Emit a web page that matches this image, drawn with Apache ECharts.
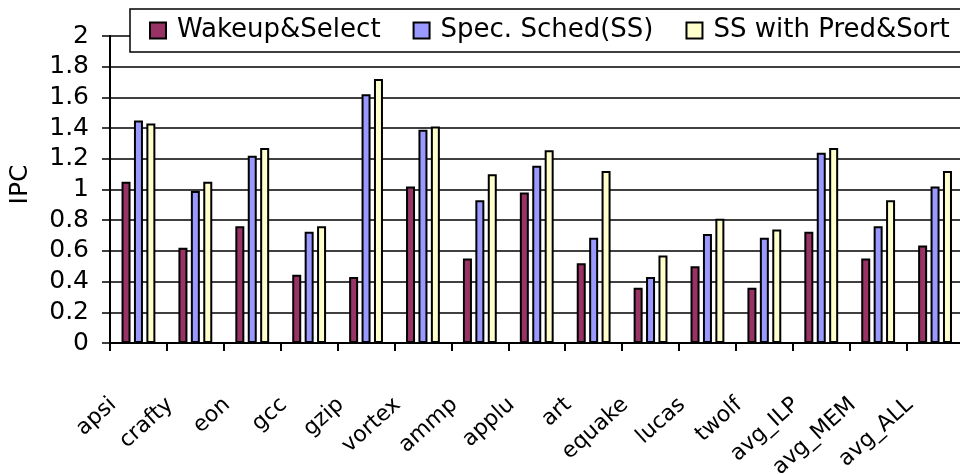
<!DOCTYPE html>
<html>
<head>
<meta charset="utf-8">
<script src="https://cdn.jsdelivr.net/npm/echarts@6/dist/echarts.min.js"></script>
<style>
  html, body { margin: 0; padding: 0; background: #fff; }
  #chart { width: 960px; height: 474px; }
</style>
</head>
<body>
<div id="chart"></div>
<script>
// Benchmarks along the x axis
const categories = ['apsi', 'crafty', 'eon', 'gcc', 'gzip', 'vortex', 'ammp', 'applu',
  'art', 'equake', 'lucas', 'twolf', 'avg_ILP', 'avg_MEM', 'avg_ALL'];

// IPC per scheduler configuration
const wakeupSelect = [1.05, 0.62, 0.76, 0.445, 0.43, 1.02, 0.55, 0.98, 0.52, 0.36, 0.50, 0.36, 0.725, 0.55, 0.635];
const specSched    = [1.45, 0.99, 1.22, 0.725, 1.62, 1.39, 0.93, 1.155, 0.685, 0.43, 0.71, 0.685, 1.24, 0.76, 1.02];
const predSort     = [1.43, 1.05, 1.27, 0.76, 1.72, 1.41, 1.10, 1.255, 1.12, 0.57, 0.81, 0.74, 1.27, 0.93, 1.12];

const seriesNames = ['Wakeup&Select', 'Spec. Sched(SS)', 'SS with Pred&Sort'];
const seriesColors = ['#993366', '#9999FF', '#FFFFCC'];
const seriesData = [wakeupSelect, specSched, predSort];

const FONT = 'DejaVu Sans';

// bar fill with a thin white highlight along the left edge
function barFill(c) {
  return new echarts.graphic.LinearGradient(0, 0, 1, 0, [
    { offset: 0, color: '#ffffff' },
    { offset: 0.18, color: '#ffffff' },
    { offset: 0.18, color: c },
    { offset: 1, color: c }
  ]);
}

const chart = echarts.init(document.getElementById('chart'), null, { renderer: 'canvas' });

chart.setOption({
  backgroundColor: '#ffffff',
  animation: false,
  legend: {
    orient: 'horizontal',
    left: 130,
    top: 9,
    width: 880,
    padding: [6, 24, 6, 19],
    itemGap: 32,
    itemWidth: 16,
    itemHeight: 16,
    borderColor: '#000',
    borderWidth: 1.5,
    backgroundColor: '#fff',
    textStyle: { fontFamily: FONT, fontSize: 26, color: '#000', lineHeight: 31, padding: [0, 0, 0, 6] },
    data: seriesNames.map((n, i) => ({
      name: n,
      icon: 'rect',
      itemStyle: { color: seriesColors[i], borderColor: '#000', borderWidth: 2 }
    }))
  },
  grid: {
    left: 110,
    top: 36,
    bottom: 131,
    width: 853.5,
    containLabel: false,
    outerBoundsMode: 'none'
  },
  xAxis: {
    type: 'category',
    data: categories,
    boundaryGap: true,
    axisLine: { lineStyle: { color: '#000', width: 2 } },
    axisTick: { show: true, length: 8, lineStyle: { color: '#000', width: 2 }, alignWithLabel: false },
    axisLabel: {
      interval: 0,
      rotate: 42,
      margin: 36,
      padding: [0, 34, 0, 0],
      fontFamily: FONT,
      fontSize: 22,
      color: '#000'
    },
    splitLine: { show: false }
  },
  yAxis: {
    type: 'value',
    min: 0,
    max: 2,
    interval: 0.2,
    name: 'IPC',
    nameLocation: 'middle',
    nameRotate: 90,
    nameGap: 77,
    nameTextStyle: { fontFamily: FONT, fontSize: 25, color: '#000', padding: [0, 0, 0, 10] },
    axisLine: { show: true, lineStyle: { color: '#000', width: 2 } },
    axisTick: { show: true, length: 8, lineStyle: { color: '#000', width: 1.5 } },
    axisLabel: { margin: 21, fontFamily: FONT, fontSize: 25, color: '#000' },
    splitLine: { show: true, lineStyle: { color: '#000', width: 1.5 } }
  },
  series: seriesNames.map((n, i) => ({
    name: n,
    type: 'bar',
    data: seriesData[i],
    barWidth: 9,
    barGap: '38%',
    itemStyle: {
      color: barFill(seriesColors[i]),
      borderColor: '#000',
      borderWidth: 2
    }
  }))
});
</script>
</body>
</html>
